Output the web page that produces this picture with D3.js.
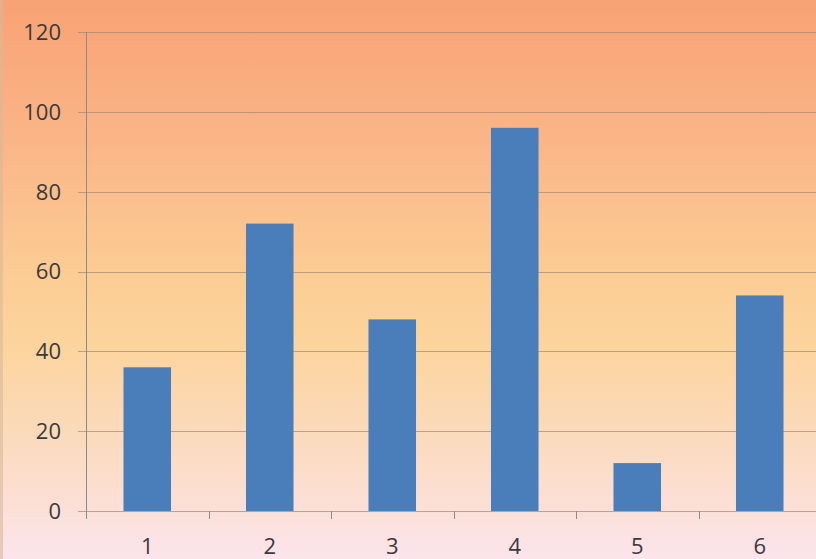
<!DOCTYPE html>
<html>
<head>
<meta charset="utf-8">
<script src="https://cdn.jsdelivr.net/npm/d3@7"></script>
<style>
  html, body { margin: 0; padding: 0; }
  body { width: 816px; height: 559px; overflow: hidden; }
  svg { display: block; }
</style>
</head>
<body>
<svg id="chart" width="816" height="559"></svg>
<script>
const categories = ["1", "2", "3", "4", "5", "6"];
const values = [36, 72, 48, 96, 12, 54];
const yTicks = [0, 20, 40, 60, 80, 100, 120];

const W = 816, H = 559;
const plotLeft = 86, plotRight = 821, plotTop = 32, plotBottom = 511;

const svg = d3.select("#chart");
const defs = svg.append("defs");
const grad = defs.append("linearGradient").attr("id", "bg")
  .attr("x1", 0).attr("y1", 0).attr("x2", 0).attr("y2", 1);
[[0, "#F8A275"], [0.25, "#FAB587"], [0.5, "#FCCD95"], [0.62, "#FCD49D"], [0.8, "#FBDBC0"], [1, "#FCE4EC"]]
  .forEach(([o, c]) => grad.append("stop").attr("offset", o).attr("stop-color", c));

svg.append("rect").attr("width", W).attr("height", H).attr("fill", "url(#bg)");
svg.append("rect").attr("x", 0).attr("y", 0).attr("width", 3).attr("height", H)
  .attr("fill", "#D9B99A").attr("opacity", 0.6);

const x = d3.scaleBand().domain(categories).range([plotLeft, plotRight])
  .paddingInner(0.612).paddingOuter(0.306);
const y = d3.scaleLinear().domain([0, 120]).range([plotBottom, plotTop]);

const font = "'Open Sans', 'Liberation Sans', sans-serif";

// gridlines
svg.append("g").selectAll("line").data(yTicks).join("line")
  .attr("x1", plotLeft - 8).attr("x2", W)
  .attr("y1", d => Math.round(y(d)) + 0.5).attr("y2", d => Math.round(y(d)) + 0.5)
  .attr("stroke", "#A08878").attr("stroke-opacity", 0.7).attr("stroke-width", 1);

// y axis line
svg.append("line").attr("x1", plotLeft + 0.5).attr("x2", plotLeft + 0.5)
  .attr("y1", plotTop).attr("y2", plotBottom + 8)
  .attr("stroke", "#8e8a88").attr("stroke-width", 1);

// x ticks at band boundaries
const step = x.step();
const gap = step - x.bandwidth();
const bounds = categories.map(c => x(c) - gap / 2).concat([x(categories[categories.length - 1]) + x.bandwidth() + gap / 2]);
svg.append("g").selectAll("line").data(bounds).join("line")
  .attr("x1", d => Math.round(d) + 0.5).attr("x2", d => Math.round(d) + 0.5)
  .attr("y1", plotBottom).attr("y2", plotBottom + 8)
  .attr("stroke", "#8e8a88").attr("stroke-width", 1);

// bars
svg.append("g").selectAll("rect").data(values).join("rect")
  .attr("x", (d, i) => x(categories[i]))
  .attr("width", x.bandwidth())
  .attr("y", d => y(d))
  .attr("height", d => y(0) - y(d))
  .attr("fill", "#4A7EBB");

// y labels
svg.append("g").selectAll("text").data(yTicks).join("text")
  .attr("x", 61).attr("y", d => y(d))
  .attr("dy", "0.36em")
  .attr("text-anchor", "end")
  .attr("font-family", font).attr("font-size", 22)
  .attr("fill", "#3a3a3a")
  .text(d => d);

// x labels
svg.append("g").selectAll("text").data(categories).join("text")
  .attr("x", d => x(d) + x.bandwidth() / 2).attr("y", 546)
  .attr("dy", "0.36em")
  .attr("text-anchor", "middle")
  .attr("font-family", font).attr("font-size", 22)
  .attr("fill", "#3a3a3a")
  .text(d => d);
</script>
</body>
</html>
